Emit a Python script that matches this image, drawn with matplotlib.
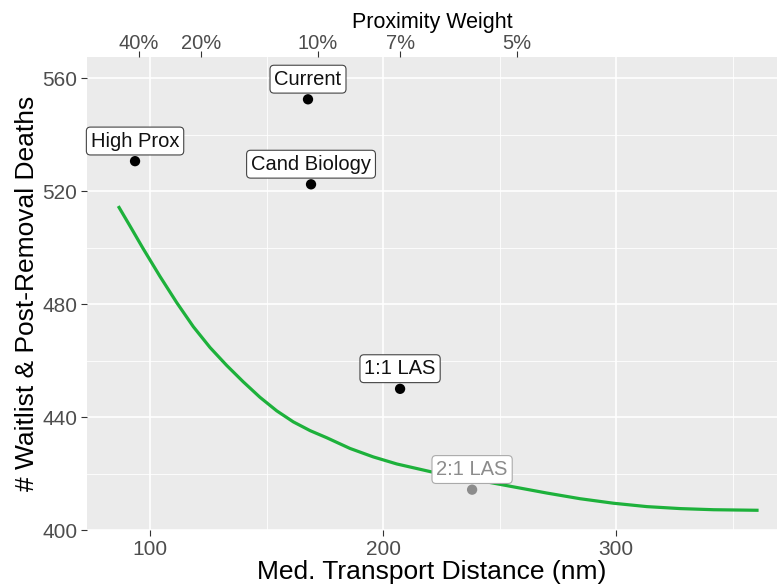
import matplotlib
matplotlib.use('Agg')
import matplotlib.pyplot as plt
import numpy as np

plt.rcParams['font.family'] = ['Liberation Sans', 'DejaVu Sans']

# policy points
labels = ['High Prox', 'Current', 'Cand Biology', '1:1 LAS', '2:1 LAS']
dist = [93.6, 167.8, 169.1, 207.3, 238.2]
deaths = [530.6, 552.5, 522.4, 450.0, 414.3]
pt_colors = ['black', 'black', 'black', 'black', '#8c8c8c']

# frontier curve
curve_x = [86.4, 91.4, 97.1, 104.3, 111.5, 118.6, 125.8, 132.9, 140.0, 147.2,
           154.4, 161.5, 168.7, 175.8, 185.8, 195.8, 205.9, 220.2, 241.6,
           255.9, 270.3, 284.5, 298.8, 313.2, 327.5, 341.8, 361.1]
curve_y = [514.7, 507.7, 499.6, 489.8, 480.5, 472.0, 464.6, 458.3, 452.5, 447.0,
           442.2, 438.3, 435.2, 432.7, 428.9, 425.9, 423.4, 420.7, 417.5,
           415.3, 413.1, 411.1, 409.5, 408.3, 407.6, 407.2, 407.0]

# top axis (proximity weight)
prox_pos = [95.3, 121.9, 172.1, 207.3, 257.5]
prox_lab = ['40%', '20%', '10%', '7%', '5%']

fig = plt.figure(figsize=(7.77, 5.87), dpi=100)
ax = fig.add_axes([0.112, 0.097, 0.888, 0.806])
ax.set_facecolor('#EBEBEB')
for s in ax.spines.values():
    s.set_visible(False)

ax.set_xlim(73, 369)
ax.set_ylim(400, 567.5)
ax.set_xticks([100, 200, 300])
ax.set_xticks([150, 250, 350], minor=True)
ax.set_yticks([400, 440, 480, 520, 560])
ax.set_yticks([420, 460, 500, 540], minor=True)
ax.grid(which='major', color='white', linewidth=1.2)
ax.grid(which='minor', color='white', linewidth=0.6)
ax.set_axisbelow(True)
ax.tick_params(which='major', length=4, width=0.8, color='#333333',
               labelsize=15, labelcolor='#4D4D4D', pad=3)
ax.tick_params(which='minor', length=0)

ax.plot(curve_x, curve_y, color='#1DB13B', linewidth=2.3, zorder=2,
        solid_capstyle='butt', solid_joinstyle='round')

for lab, x, y, c in zip(labels, dist, deaths, pt_colors):
    ax.scatter(x, y, s=55, color=c, zorder=3, edgecolors='none')
    ax.annotate(lab, (x, y), xytext=(0, 14.5), textcoords='offset points',
                ha='center', va='center', fontsize=14.5,
                color=c if c != 'black' else '#111111',
                bbox=dict(boxstyle='round,pad=0.22,rounding_size=0.2', fc='white',
                          ec='#444444' if c == 'black' else '#aaaaaa', lw=0.8),
                zorder=4)

ax.set_xlabel('Med. Transport Distance (nm)', fontsize=19, labelpad=1)
ax.set_ylabel('# Waitlist & Post-Removal Deaths', fontsize=19, labelpad=2)

top = ax.secondary_xaxis('top')
top.set_xticks(prox_pos)
top.set_xticklabels(prox_lab)
top.tick_params(length=4, width=0.8, color='#333333', labelsize=14.5,
                labelcolor='#4D4D4D', pad=-1)
for s in top.spines.values():
    s.set_visible(False)
top.set_xlabel('Proximity Weight', fontsize=15.5, labelpad=4)

fig.savefig('out.png', dpi=100)
